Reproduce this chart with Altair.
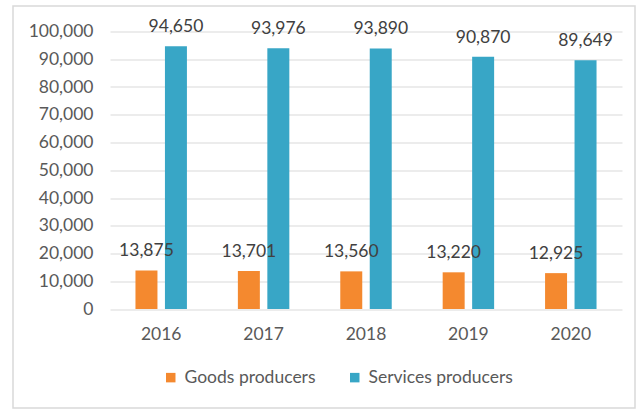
import altair as alt
import pandas as pd

years = ["2016", "2017", "2018", "2019", "2020"]
goods = [13875, 13701, 13560, 13220, 12925]
services = [94650, 93976, 93890, 90870, 89649]
series = ["Goods producers", "Services producers"]
colors = ["#F4892F", "#38A6C6"]

rows = []
for i, y in enumerate(years):
    rows.append({"year": y, "series": series[0], "value": goods[i]})
    rows.append({"year": y, "series": series[1], "value": services[i]})
df = pd.DataFrame(rows)

W, H = 512, 277.5
FONT = "Lato"
GREY = "#595959"
FS = 17.5

x = alt.X("year:N", title=None, sort=years,
          scale=alt.Scale(paddingInner=0, paddingOuter=0),
          axis=alt.Axis(labelAngle=0, ticks=False, domain=False, grid=False,
                        labelPadding=16, labelFontSize=FS, labelColor=GREY, labelFont=FONT))
xo = alt.XOffset("series:N", sort=series,
                 scale=alt.Scale(paddingInner=0.254, paddingOuter=0.864))
y = alt.Y("value:Q", title=None,
          scale=alt.Scale(domain=[0, 100000], nice=False),
          axis=alt.Axis(values=list(range(0, 100001, 10000)), format=",.0f",
                        ticks=False, domain=False, gridColor="#D9D9D9", gridWidth=1,
                        labelPadding=17, labelFontSize=FS, labelColor=GREY, labelFont=FONT))

bars = alt.Chart(df).mark_bar().encode(
    x=x, xOffset=xo, y=y,
    color=alt.Color("series:N", sort=series,
                    scale=alt.Scale(domain=series, range=colors),
                    legend=alt.Legend(title=None, orient="none", direction="horizontal",
                                      legendX=52, legendY=337, symbolType="square",
                                      symbolSize=90, symbolStrokeWidth=0,
                                      labelFontSize=FS, labelColor=GREY, labelFont=FONT,
                                      labelOffset=5, columnPadding=30)),
)

labels = alt.Chart(df).mark_text(dy=-14, baseline="alphabetic", fontSize=FS,
                                 color="#404040", font=FONT).encode(
    x=x, xOffset=xo, y=y, text=alt.Text("value:Q", format=",.0f")
)

border = alt.Chart(pd.DataFrame({"a": [0]})).mark_rect(
    fill=None, stroke="#D9D9D9", strokeWidth=1.5
).encode(x=alt.value(-97), x2=alt.value(W + 13), y=alt.value(-25.5), y2=alt.value(H + 99))

chart = alt.layer(border, bars, labels).properties(
    width=W, height=H,
    autosize=alt.AutoSizeParams(type="none"),
    padding={"left": 110, "top": 31.5, "right": 20, "bottom": 102},
    background="white",
).configure_view(stroke=None)

chart.save("out.html", embed_options={"renderer": "svg", "actions": False})
